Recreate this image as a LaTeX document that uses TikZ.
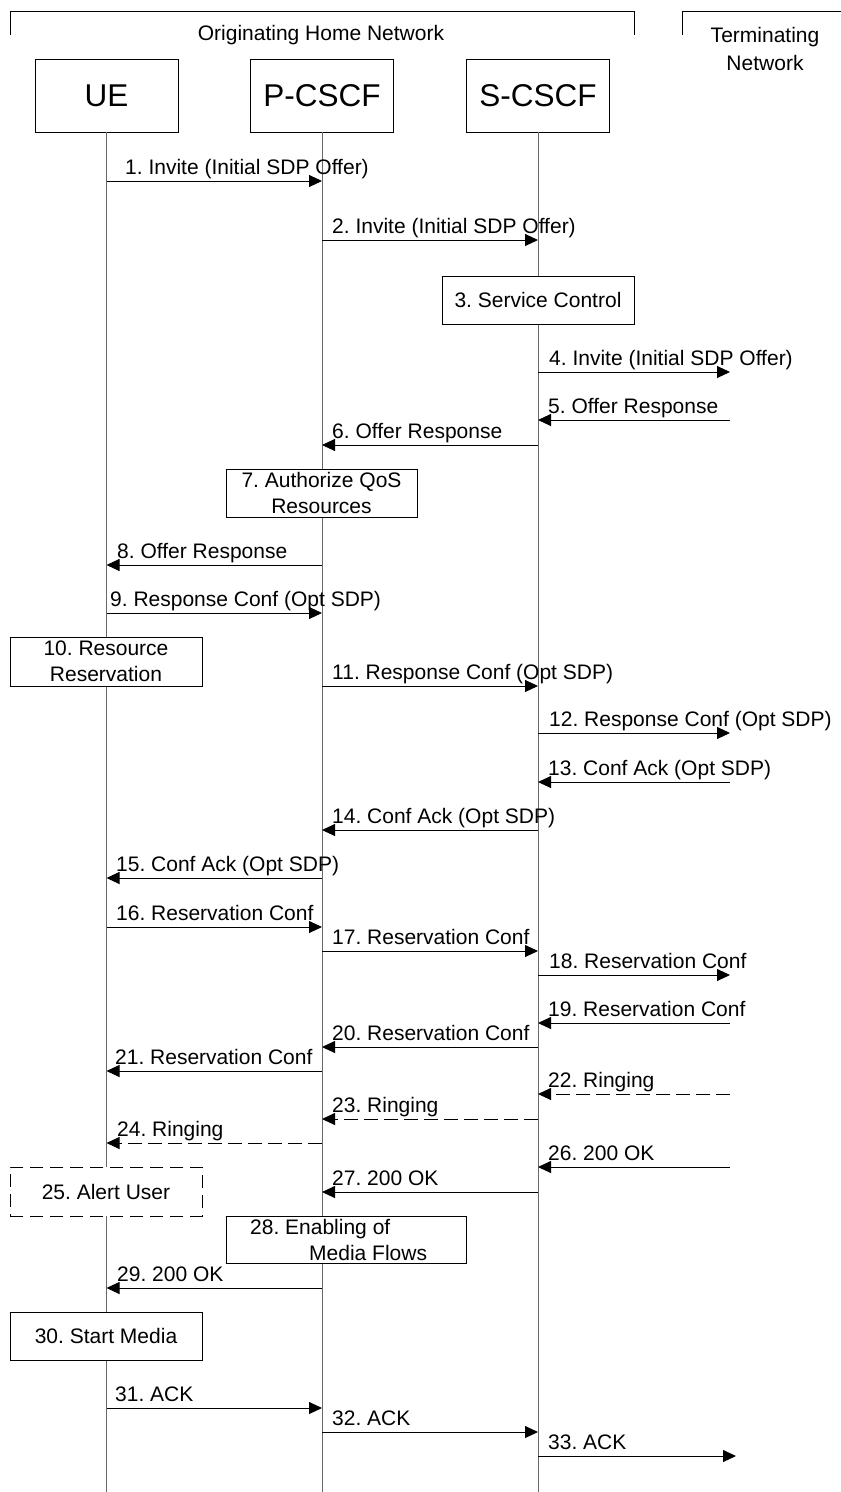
\documentclass[tikz,border=0pt]{standalone}
\usepackage{fontspec}
\setmainfont{Liberation Sans}
\usetikzlibrary{arrows.meta}
\definecolor{lifegray}{RGB}{105,105,105}
\frenchspacing

\begin{document}
\begin{tikzpicture}[x=1pt, y=-1pt,
  every node/.style={font=\fontsize{21}{26}\selectfont, inner sep=0pt},
  actor/.style={draw, fill=white, minimum width=143pt, minimum height=73pt, font=\fontsize{31.5}{36}\selectfont},
  act/.style={draw, fill=white, align=center, minimum width=192pt, minimum height=48pt},
  life/.style={lifegray, line width=0.9pt},
  msg/.style={line width=0.9pt, -{Triangle[length=13pt, width=12pt]}},
  ring/.style={msg, dash pattern=on 14pt off 6pt},
  lbl/.style={anchor=base west}]
  \useasboundingbox (0,0) rectangle (841,1492);

  % network brackets
  \draw[line width=0.9pt] (10,35) -- (10,11) -- (634,11) -- (634,35);
  \draw[line width=0.9pt] (682,35) -- (682,11) -- (841,11);
  \node (orig) at (321,35) {Originating Home Network};
  \node[align=center, font=\fontsize{21}{28}\selectfont] (termnet) at (765,49) {Terminating\\Network};

  % actors and lifelines
  \node[actor] (ue) at (106.5,95.5) {UE};
  \node[actor] (pcscf) at (322,95.5) {P-CSCF};
  \node[actor] (scscf) at (538,95.5) {S-CSCF};
  \coordinate (ueend) at (106.5,1492);
  \coordinate (pend) at (322,1492);
  \coordinate (send) at (538,1492);
  \coordinate (term) at (730,0);
  \draw[life] (ue.south) -- (ueend);
  \draw[life] (pcscf.south) -- (pend);
  \draw[life] (scscf.south) -- (send);

  % local actions
  \node[act] (svc) at (538,300) {3. Service Control};
  \node[act, minimum width=191pt] (qos) at (321.5,493) {7. Authorize QoS\\Resources};
  \node[act, minimum height=49pt] (resv) at (106,661.5) {10. Resource\\Reservation};
  \node[act, dashed, dash pattern=on 13pt off 7pt, minimum height=49pt] (alert) at (106,1191.5) {25. Alert User};
  \node[act, minimum width=240pt, minimum height=47pt] (media) at (346,1239.5) {};
  \node[anchor=west, align=left] (mediatxt) at (250,1239.5) {28. Enabling of\\\hspace*{59pt}Media Flows};
  \node[act] (start) at (106,1336) {30. Start Media};

  % messages
  \draw[msg] (ue |- 0,181) -- (pcscf |- 0,181);
  \node[lbl] (l1) at (125,174) {1. Invite (Initial SDP Offer)};
  \draw[msg] (pcscf |- 0,240) -- (scscf |- 0,240);
  \node[lbl] (l2) at (332,233) {2. Invite (Initial SDP Offer)};
  \draw[msg] (scscf |- 0,372) -- (term |- 0,372);
  \node[lbl] (l4) at (549,365) {4. Invite (Initial SDP Offer)};
  \draw[msg] (term |- 0,420) -- (scscf |- 0,420);
  \node[lbl] (l5) at (548,413) {5. Offer Response};
  \draw[msg] (scscf |- 0,445) -- (pcscf |- 0,445);
  \node[lbl] (l6) at (332,438) {6. Offer Response};
  \draw[msg] (pcscf |- 0,565) -- (ue |- 0,565);
  \node[lbl] (l8) at (117,558) {8. Offer Response};
  \draw[msg] (ue |- 0,613) -- (pcscf |- 0,613);
  \node[lbl] (l9) at (110,606) {9. Response Conf (Opt SDP)};
  \draw[msg] (pcscf |- 0,686) -- (scscf |- 0,686);
  \node[lbl] (l11) at (332,679) {11. Response Conf (Opt SDP)};
  \draw[msg] (scscf |- 0,733) -- (term |- 0,733);
  \node[lbl] (l12) at (549,726) {12. Response Conf (Opt SDP)};
  \draw[msg] (term |- 0,782) -- (scscf |- 0,782);
  \node[lbl] (l13) at (548,775) {13. Conf Ack (Opt SDP)};
  \draw[msg] (scscf |- 0,830) -- (pcscf |- 0,830);
  \node[lbl] (l14) at (332,823) {14. Conf Ack (Opt SDP)};
  \draw[msg] (pcscf |- 0,878) -- (ue |- 0,878);
  \node[lbl] (l15) at (116,871) {15. Conf Ack (Opt SDP)};
  \draw[msg] (ue |- 0,927) -- (pcscf |- 0,927);
  \node[lbl] (l16) at (116,920) {16. Reservation Conf};
  \draw[msg] (pcscf |- 0,951) -- (scscf |- 0,951);
  \node[lbl] (l17) at (332,944) {17. Reservation Conf};
  \draw[msg] (scscf |- 0,975) -- (term |- 0,975);
  \node[lbl] (l18) at (549,968) {18. Reservation Conf};
  \draw[msg] (term |- 0,1023) -- (scscf |- 0,1023);
  \node[lbl] (l19) at (548,1016) {19. Reservation Conf};
  \draw[msg] (scscf |- 0,1047) -- (pcscf |- 0,1047);
  \node[lbl] (l20) at (332,1040) {20. Reservation Conf};
  \draw[msg] (pcscf |- 0,1071) -- (ue |- 0,1071);
  \node[lbl] (l21) at (115,1064) {21. Reservation Conf};
  \draw[ring] (term |- 0,1094) -- (scscf |- 0,1094);
  \node[lbl] (l22) at (548,1087) {22. Ringing};
  \draw[ring] (scscf |- 0,1119) -- (pcscf |- 0,1119);
  \node[lbl] (l23) at (332,1112) {23. Ringing};
  \draw[ring] (pcscf |- 0,1143) -- (ue |- 0,1143);
  \node[lbl] (l24) at (117,1136) {24. Ringing};
  \draw[msg] (term |- 0,1167) -- (scscf |- 0,1167);
  \node[lbl] (l26) at (548,1160) {26. 200 OK};
  \draw[msg] (scscf |- 0,1192) -- (pcscf |- 0,1192);
  \node[lbl] (l27) at (332,1185) {27. 200 OK};
  \draw[msg] (pcscf |- 0,1288) -- (ue |- 0,1288);
  \node[lbl] (l29) at (117,1281) {29. 200 OK};
  \draw[msg] (ue |- 0,1408) -- (pcscf |- 0,1408);
  \node[lbl] (l31) at (115,1401) {31. ACK};
  \draw[msg] (pcscf |- 0,1432) -- (scscf |- 0,1432);
  \node[lbl] (l32) at (332,1425) {32. ACK};
  \draw[msg] (scscf |- 0,1456) -- ([xshift=6pt]term |- 0,1456);
  \node[lbl] (l33) at (548,1449) {33. ACK};
\end{tikzpicture}
\end{document}
